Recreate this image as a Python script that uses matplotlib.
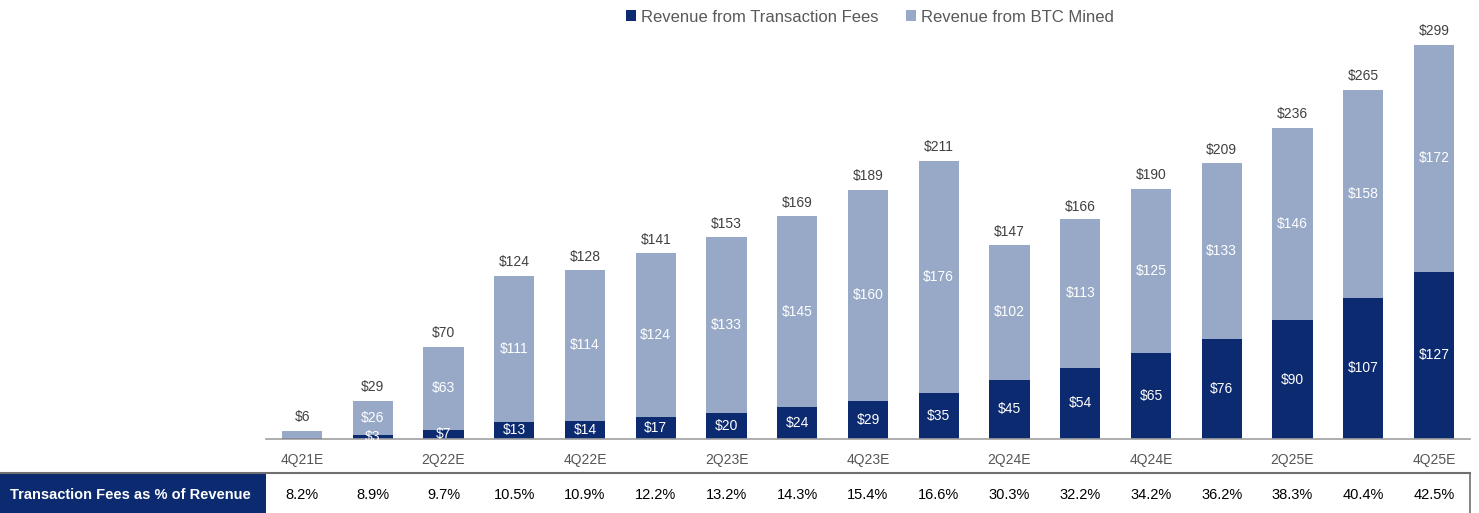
import matplotlib.pyplot as plt
from matplotlib.patches import Rectangle
from matplotlib.transforms import blended_transform_factory

plt.rcParams["font.family"] = ["Liberation Sans", "DejaVu Sans"]

quarters = ["4Q21E", "1Q22E", "2Q22E", "3Q22E", "4Q22E", "1Q23E", "2Q23E", "3Q23E", "4Q23E",
            "1Q24E", "2Q24E", "3Q24E", "4Q24E", "1Q25E", "2Q25E", "3Q25E", "4Q25E"]
fees = [0.5, 3, 7, 13, 14, 17, 20, 24, 29, 35, 45, 54, 65, 76, 90, 107, 127]
mined = [5.5, 26, 63, 111, 114, 124, 133, 145, 160, 176, 102, 113, 125, 133, 146, 158, 172]
totals = [6, 29, 70, 124, 128, 141, 153, 169, 189, 211, 147, 166, 190, 209, 236, 265, 299]
fee_pct = [8.2, 8.9, 9.7, 10.5, 10.9, 12.2, 13.2, 14.3, 15.4, 16.6, 30.3, 32.2, 34.2, 36.2,
           38.3, 40.4, 42.5]

navy = "#0b2a6f"
light = "#97a9c7"
grey_txt = "#404040"

W, H = 1479, 513
fig = plt.figure(figsize=(W / 100, H / 100), dpi=100)
ax = fig.add_axes([266 / W, 1 - 439 / H, 1204 / W, 439 / H])

x = list(range(len(quarters)))
width = 0.57
ax.bar(x, fees, width, color=navy, label="Revenue from Transaction Fees")
ax.bar(x, mined, width, bottom=fees, color=light, label="Revenue from BTC Mined")

for i in x:
    ax.text(i, totals[i] + 5, f"${totals[i]}", ha="center", va="bottom",
            fontsize=10, color=grey_txt)
    if i == 0:
        continue
    ax.text(i, fees[i] / 2, f"${fees[i]}", ha="center", va="center",
            fontsize=10, color="white")
    ax.text(i, fees[i] + mined[i] / 2, f"${mined[i]}", ha="center", va="center",
            fontsize=10, color="white")

ax.set_xlim(-0.51, 16.51)
ax.set_ylim(0, 333)
ax.set_xticks(x[::2])
ax.set_xticklabels(quarters[::2], fontsize=10, color="#555555")
ax.tick_params(axis="x", length=0, pad=10)
ax.set_yticks([])
for side in ["top", "right", "left"]:
    ax.spines[side].set_visible(False)
ax.spines["bottom"].set_color("#a0a0a0")
ax.spines["bottom"].set_linewidth(1.2)

# percentage row beneath the chart
top = 1 - 473 / H
fig.patches.append(Rectangle((0, 0), 266 / W, top, transform=fig.transFigure,
                             facecolor=navy, edgecolor="none"))
fig.add_artist(plt.Line2D([0, 1470 / W], [top, top], transform=fig.transFigure,
                          color="#707070", lw=1.5))
fig.add_artist(plt.Line2D([1470 / W, 1470 / W], [0, top], transform=fig.transFigure,
                          color="#707070", lw=1.2))
fig.text(10 / W, 1 - 495 / H, "Transaction Fees as % of Revenue", ha="left", va="center",
         fontsize=10.5, fontweight="bold", color="white")
trans = blended_transform_factory(ax.transData, fig.transFigure)
for i, p in zip(x, fee_pct):
    ax.text(i, 1 - 495 / H, f"{p:.1f}%", transform=trans, ha="center", va="center",
            fontsize=10.5, color="black", clip_on=False)

fig.legend(loc="center", bbox_to_anchor=(870 / W, 1 - 17 / H), ncol=2, frameon=False,
           fontsize=12, handlelength=0.6, handleheight=0.6, handletextpad=0.3,
           columnspacing=1.6, labelcolor="#595959")

fig.savefig("out.png", dpi=100)
